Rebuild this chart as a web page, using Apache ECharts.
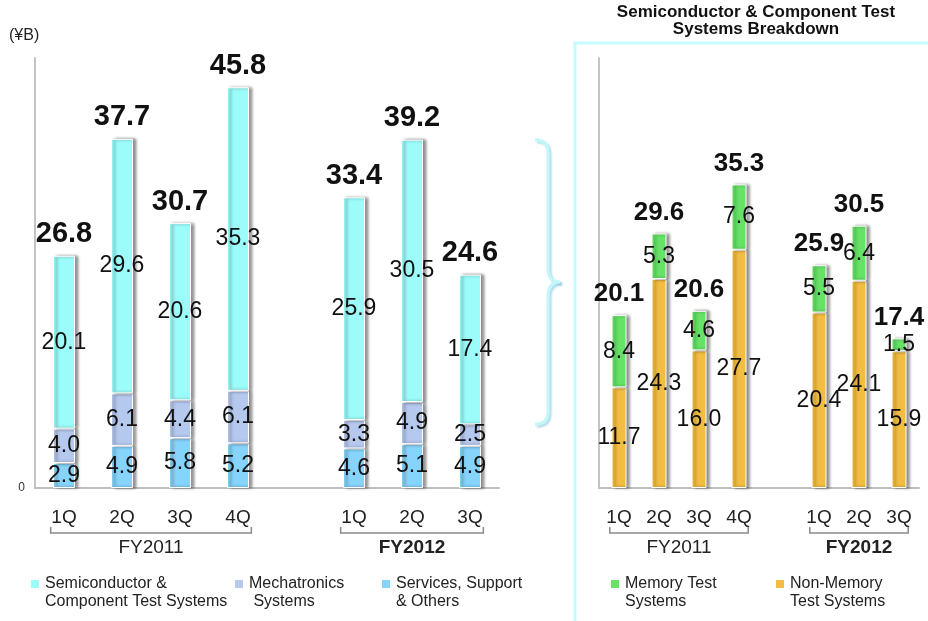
<!DOCTYPE html>
<html><head><meta charset="utf-8">
<script src="https://cdn.jsdelivr.net/npm/echarts@6/dist/echarts.min.js"></script>
<style>html,body{margin:0;padding:0;background:#fff}#c{width:928px;height:621px}</style>
</head><body><div id="c"></div>
<script>
// ---- data ----
const categories = ['1Q', '2Q', '3Q', '4Q', '', '1Q', '2Q', '3Q'];
const fiscalGroups = ['FY2011', 'FY2012'];
const groupRanges = [[0, 3], [5, 7]];
const servicesSupport = [2.9, 4.9, 5.8, 5.2, null, 4.6, 5.1, 4.9];
const mechatronics = [4.0, 6.1, 4.4, 6.1, null, 3.3, 4.9, 2.5];
const semiTest = [20.1, 29.6, 20.6, 35.3, null, 25.9, 30.5, 17.4];
const totalSales = [26.8, 37.7, 30.7, 45.8, null, 33.4, 39.2, 24.6];
const nonMemory = [11.7, 24.3, 16.0, 27.7, null, 20.4, 24.1, 15.9];
const memory = [8.4, 5.3, 4.6, 7.6, null, 5.5, 6.4, 1.5];
const breakdownTotals = [20.1, 29.6, 20.6, 35.3, null, 25.9, 30.5, 17.4];
const yTicks = [0];

const NAMES = {
  semi: 'Semiconductor &\nComponent Test Systems',
  mech: 'Mechatronics\n Systems',
  serv: 'Services, Support\n& Others',
  mem: 'Memory Test\nSystems',
  non: 'Non-Memory\nTest Systems'
};
const COLORS = { semi: '#9bfcfa', mech: '#b5c8ee', serv: '#86d3fb', mem: '#66e266', non: '#f2bd43' };
const FONT = '"Liberation Sans", Arial, Helvetica, sans-serif';

const chart = echarts.init(document.getElementById('c'));

const segStyle = (c) => ({ color: c, borderColor: '#ffffff', borderWidth: 1, shadowColor: 'rgba(0,0,0,0.45)', shadowBlur: 3, shadowOffsetX: 3 });
const segLabel = { show: true, position: 'inside', fontSize: 23, color: '#111', fontFamily: FONT,
  formatter: p => Number(p.value).toFixed(1) };

function seg(name, data, color, gi, stack, bw) {
  return { type: 'bar', name, data, xAxisIndex: gi, yAxisIndex: gi, stack, barWidth: bw,
    itemStyle: segStyle(color), label: segLabel, emphasis: { disabled: true }, silent: true };
}
function totalCarrier(totals, gi, stack, bw, fs, dist) {
  return { type: 'bar', name: 'total' + gi, data: totals.map(v => v == null ? null : 0),
    xAxisIndex: gi, yAxisIndex: gi, stack, barWidth: bw, silent: true,
    itemStyle: { color: 'rgba(0,0,0,0)' },
    label: { show: true, position: 'top', distance: dist, fontSize: fs, fontWeight: 'bold', color: '#111', fontFamily: FONT,
      formatter: p => totals[p.dataIndex].toFixed(1) } };
}

const legendIcon = 'path://M0,0M0,4L10,4L10,14L0,14ZM0,36';
function legendFor(name, left) {
  return { data: [name], left, top: 574, padding: 0, selectedMode: false, icon: legendIcon,
    itemWidth: 10, itemHeight: 36, itemGap: 5,
    textStyle: { fontSize: 16, lineHeight: 18, color: '#222', fontFamily: FONT } };
}

function xAxis(gi) {
  return { type: 'category', gridIndex: gi, data: categories,
    axisLine: { lineStyle: { color: '#bdbdbd', width: 2 } }, axisTick: { show: false },
    axisLabel: { fontSize: 19, color: '#222', margin: 20, interval: 0, fontFamily: FONT } };
}
function yAxis(gi, showLabel) {
  return { type: 'value', gridIndex: gi, min: 0, max: 50, interval: 50,
    splitLine: { show: false }, axisTick: { show: false },
    axisLine: { show: true, lineStyle: { color: '#c4c4c4', width: 2 } },
    axisLabel: { show: showLabel, fontSize: 12, color: '#333', margin: 10, fontFamily: FONT,
      formatter: v => yTicks.includes(v) ? String(v) : '' } };
}

const option = {
  animation: false,
  textStyle: { fontFamily: FONT },
  grid: [
    { left: 35, top: 58, width: 464, height: 430 },
    { left: 599, top: 58, width: 320, height: 430 }
  ],
  xAxis: [xAxis(0), xAxis(1)],
  yAxis: [yAxis(0, true), yAxis(1, false)],
  legend: [
    legendFor(NAMES.semi, 29), legendFor(NAMES.mech, 233), legendFor(NAMES.serv, 380),
    legendFor(NAMES.mem, 609), legendFor(NAMES.non, 774)
  ],
  series: [
    seg(NAMES.serv, servicesSupport, COLORS.serv, 0, 'L', 22),
    seg(NAMES.mech, mechatronics, COLORS.mech, 0, 'L', 22),
    seg(NAMES.semi, semiTest, COLORS.semi, 0, 'L', 22),
    totalCarrier(totalSales, 0, 'L', 22, 29, 7),
    seg(NAMES.non, nonMemory, COLORS.non, 1, 'R', 15),
    seg(NAMES.mem, memory, COLORS.mem, 1, 'R', 15),
    totalCarrier(breakdownTotals, 1, 'R', 15, 26, 8)
  ]
};
chart.setOption(option);

// ---- annotations positioned through the axes ----
const px = (gi, ci, v) => chart.convertToPixel({ gridIndex: gi }, [ci, v]);
const graphics = [];
// breakdown panel frame and title
graphics.push({ type: 'rect', silent: true, z: -1, shape: { x: 575, y: 43, width: 420, height: 640 },
  style: { stroke: '#c6fbfc', lineWidth: 3, fill: null } });
graphics.push({ type: 'text', silent: true, x: 756, y: 21,
  style: { text: 'Semiconductor & Component Test\nSystems Breakdown', align: 'center', verticalAlign: 'middle',
    fontSize: 17, lineHeight: 17, fontWeight: 'bold', fill: '#111', fontFamily: FONT } });
graphics.push({ type: 'text', silent: true, x: 9, y: 36,
  style: { text: '(¥B)', align: 'left', verticalAlign: 'middle', fontSize: 16, fill: '#222', fontFamily: FONT } });

const catW = [464 / categories.length, 320 / categories.length];
[0, 1].forEach(gi => {
  const base = px(gi, 0, 0)[1];
  groupRanges.forEach((r, k) => {
    const x1 = px(gi, r[0], 0)[0] - catW[gi] * 0.23;
    const x2 = px(gi, r[1], 0)[0] + catW[gi] * 0.23;
    const y = base + 45;
    graphics.push({ type: 'polyline', shape: { points: [[x1, y - 6], [x1, y], [x2, y], [x2, y - 6]] },
      style: { stroke: '#8a8a8a', lineWidth: 1.5, fill: null }, silent: true });
    graphics.push({ type: 'text', x: (x1 + x2) / 2, y: y + 15,
      style: { text: fiscalGroups[k], align: 'center', verticalAlign: 'middle', fontSize: 19,
        fontWeight: k === 1 ? 'bold' : 'normal', fill: '#222', fontFamily: FONT }, silent: true });
  });
});
// brace spanning FY2012 semiconductor segments
const fyStack = [5, 6, 7];
const topVal = Math.max(...fyStack.map(i => servicesSupport[i] + mechatronics[i] + semiTest[i]));
const botVal = Math.min(...fyStack.map(i => servicesSupport[i] + mechatronics[i]));
const yTop = px(0, 0, topVal)[1], yBot = px(0, 0, botVal)[1], yMid = (yTop + yBot) / 2;
const gx = px(0, 7, 0)[0] + 29;
const bx0 = gx + 36, bx1 = gx + 49, bx2 = gx + 61;
const braceStyle = { stroke: '#c3f8fb', lineWidth: 3, fill: null, shadowColor: 'rgba(110,190,215,0.55)', shadowBlur: 2, shadowOffsetX: 2, shadowOffsetY: 2 };
const braceParts = [
  { type: 'bezierCurve', shape: { x1: bx0, y1: yTop, cpx1: bx1, cpy1: yTop, x2: bx1, y2: yTop + 13 } },
  { type: 'line', shape: { x1: bx1, y1: yTop + 13, x2: bx1, y2: yMid - 14 } },
  { type: 'bezierCurve', shape: { x1: bx1, y1: yMid - 14, cpx1: bx1, cpy1: yMid, x2: bx2, y2: yMid } },
  { type: 'bezierCurve', shape: { x1: bx2, y1: yMid, cpx1: bx1, cpy1: yMid, x2: bx1, y2: yMid + 14 } },
  { type: 'line', shape: { x1: bx1, y1: yMid + 14, x2: bx1, y2: yBot - 13 } },
  { type: 'bezierCurve', shape: { x1: bx1, y1: yBot - 13, cpx1: bx1, cpy1: yBot, x2: bx0, y2: yBot } }
];
braceParts.forEach(p => graphics.push(Object.assign(p, { style: braceStyle, silent: true })));
chart.setOption({ graphic: graphics });
</script>
</body></html>
